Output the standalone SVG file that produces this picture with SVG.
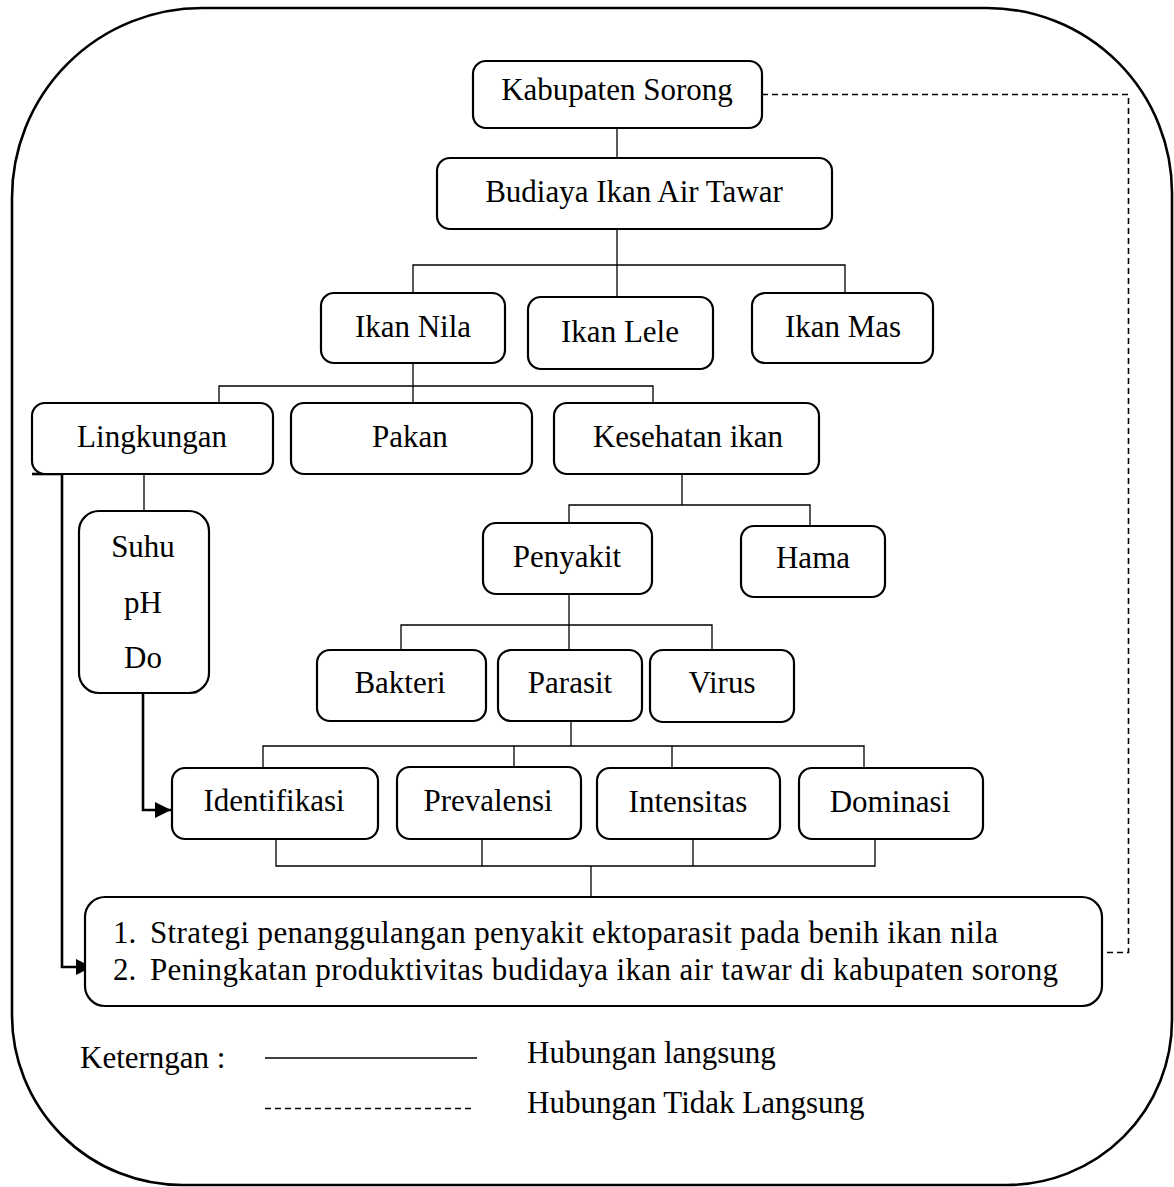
<svg xmlns="http://www.w3.org/2000/svg" width="1174" height="1187" viewBox="0 0 1174 1187">
<style>
  .box { fill: #fff; stroke: #000; stroke-width: 2.2; }
  .t { font-family: "Liberation Serif", "Times New Roman", serif; font-size: 31px; fill: #000; }
  .c { text-anchor: middle; }
  .ln { fill: none; stroke: #000; stroke-width: 1.3; }
  .thick { fill: none; stroke: #000; stroke-width: 2.6; }
  .dash { fill: none; stroke: #000; stroke-width: 1.6; stroke-dasharray: 6 4; }
  .frame { fill: none; stroke: #000; stroke-width: 2.6; }
</style>
<defs>
  <marker id="arr" viewBox="0 0 16 16" refX="16" refY="8" markerWidth="16" markerHeight="16" markerUnits="userSpaceOnUse" orient="auto">
    <path d="M0,0 L16,8 L0,16 Z" fill="#000"/>
  </marker>
</defs>
<rect width="1174" height="1187" fill="#fff"/>
<path class="frame" d="M202,8 H987 A185,185 0 0 1 1172,193 V1020 A165,165 0 0 1 1007,1185 H182 A170,170 0 0 1 12,1015 V198 A190,190 0 0 1 202,8 Z"/>

<g id="connectors">
  <path class="ln" d="M617,128 V158"/>
  <path class="ln" d="M617,229 V297"/>
  <path class="ln" d="M413,293 V265 H845 V292"/>
  <path class="ln" d="M413,363 V403"/>
  <path class="ln" d="M219,403 V386 H653 V403"/>
  <path class="ln" d="M144,474 V511"/>
  <path class="ln" d="M682,474 V505"/>
  <path class="ln" d="M569,523 V505 H810 V526"/>
  <path class="ln" d="M569,594 V650"/>
  <path class="ln" d="M401,650 V625 H712 V650"/>
  <path class="ln" d="M571,721 V746"/>
  <path class="ln" d="M263,768 V746 H864 V768"/>
  <path class="ln" d="M514,746 V767"/>
  <path class="ln" d="M672,746 V768"/>
  <path class="ln" d="M276,839 V866 H875 V839"/>
  <path class="ln" d="M482,839 V866"/>
  <path class="ln" d="M693,839 V866"/>
  <path class="ln" d="M591,866 V897"/>
  <path class="thick" d="M32,474 H62"/>
  <path class="thick" d="M62,474 V967 H92" marker-end="url(#arr)"/>
  <path class="thick" d="M180,692 H197"/>
  <path class="thick" d="M143,693 V810 H171" marker-end="url(#arr)"/>
  <path class="dash" d="M762,94.5 H1128.5 V952.5 H1102"/>
</g>

<g id="kabupaten-sorong">
  <rect class="box" x="473" y="61" width="289" height="67" rx="13"/>
  <text class="t c" x="617" y="100">Kabupaten Sorong</text>
</g>
<g id="budiaya">
  <rect class="box" x="437" y="158" width="395" height="71" rx="13"/>
  <text class="t c" x="634" y="202">Budiaya Ikan Air Tawar</text>
</g>
<g id="ikan-nila">
  <rect class="box" x="321" y="293" width="184" height="70" rx="13"/>
  <text class="t c" x="413" y="337">Ikan Nila</text>
</g>
<g id="ikan-lele">
  <rect class="box" x="528" y="297" width="185" height="72" rx="13"/>
  <text class="t c" x="620" y="342">Ikan Lele</text>
</g>
<g id="ikan-mas">
  <rect class="box" x="752" y="293" width="181" height="70" rx="13"/>
  <text class="t c" x="843" y="337">Ikan Mas</text>
</g>
<g id="lingkungan">
  <rect class="box" x="32" y="403" width="241" height="71" rx="13"/>
  <text class="t c" x="152" y="447">Lingkungan</text>
</g>
<g id="pakan">
  <rect class="box" x="291" y="403" width="241" height="71" rx="13"/>
  <text class="t c" x="410" y="447">Pakan</text>
</g>
<g id="kesehatan-ikan">
  <rect class="box" x="554" y="403" width="265" height="71" rx="13"/>
  <text class="t c" x="688" y="447">Kesehatan ikan</text>
</g>
<g id="suhu-ph-do">
  <rect class="box" x="79" y="511" width="130" height="182" rx="20"/>
  <text class="t c" x="143" y="557">Suhu</text>
  <text class="t c" x="143" y="613">pH</text>
  <text class="t c" x="143" y="668">Do</text>
</g>
<g id="penyakit">
  <rect class="box" x="483" y="523" width="169" height="71" rx="13"/>
  <text class="t c" x="567" y="567">Penyakit</text>
</g>
<g id="hama">
  <rect class="box" x="741" y="526" width="144" height="71" rx="13"/>
  <text class="t c" x="813" y="568">Hama</text>
</g>
<g id="bakteri">
  <rect class="box" x="317" y="650" width="169" height="71" rx="13"/>
  <text class="t c" x="400" y="693">Bakteri</text>
</g>
<g id="parasit">
  <rect class="box" x="498" y="650" width="144" height="71" rx="13"/>
  <text class="t c" x="570" y="693">Parasit</text>
</g>
<g id="virus">
  <rect class="box" x="650" y="650" width="144" height="72" rx="13"/>
  <text class="t c" x="722" y="693">Virus</text>
</g>
<g id="identifikasi">
  <rect class="box" x="172" y="768" width="206" height="71" rx="13"/>
  <text class="t c" x="274" y="811">Identifikasi</text>
</g>
<g id="prevalensi">
  <rect class="box" x="397" y="767" width="184" height="72" rx="13"/>
  <text class="t c" x="488" y="811">Prevalensi</text>
</g>
<g id="intensitas">
  <rect class="box" x="597" y="768" width="183" height="71" rx="13"/>
  <text class="t c" x="688" y="812">Intensitas</text>
</g>
<g id="dominasi">
  <rect class="box" x="799" y="768" width="184" height="71" rx="13"/>
  <text class="t c" x="890" y="812">Dominasi</text>
</g>
<g id="hasil">
  <rect class="box" x="85" y="897" width="1017" height="109" rx="20"/>
  <text class="t" x="113" y="943">1.</text>
  <text class="t" x="150" y="943" textLength="848">Strategi penanggulangan penyakit ektoparasit pada benih ikan nila</text>
  <text class="t" x="113" y="980">2.</text>
  <text class="t" x="150" y="980" textLength="908">Peningkatan produktivitas budidaya ikan air tawar di kabupaten sorong</text>
</g>

<g id="legend">
  <text class="t" x="80" y="1068">Keterngan :</text>
  <path class="ln" d="M265,1058 H477"/>
  <path class="dash" d="M265,1108.5 H472" style="stroke-width:1.3"/>
  <text class="t" x="527" y="1063">Hubungan langsung</text>
  <text class="t" x="527" y="1113">Hubungan Tidak Langsung</text>
</g>
</svg>
